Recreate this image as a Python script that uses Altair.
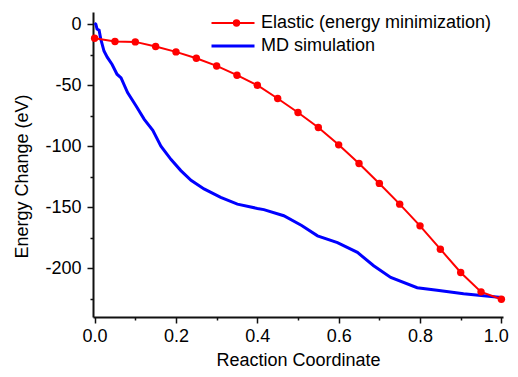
import altair as alt
import pandas as pd

# Elastic (energy minimization) series
elastic_x = [0.0, 0.05, 0.10, 0.15, 0.20, 0.25, 0.30, 0.35, 0.40, 0.45, 0.50,
             0.55, 0.60, 0.65, 0.70, 0.75, 0.80, 0.85, 0.90, 0.95, 1.00]
elastic_y = [-11.5, -14.2, -14.5, -18.3, -22.7, -27.9, -34.2, -41.8, -50.0, -60.9, -72.4,
             -84.7, -98.9, -114.2, -130.5, -147.5, -165.3, -184.4, -203.5, -219.4, -225.4]

# MD simulation series
md_x = [0.0, 0.003, 0.006, 0.011, 0.015, 0.023, 0.031, 0.043, 0.055, 0.065, 0.081,
        0.102, 0.122, 0.143, 0.163, 0.188, 0.212, 0.237, 0.269, 0.310, 0.351, 0.400,
        0.416, 0.465, 0.509, 0.548, 0.597, 0.646, 0.686, 0.728, 0.793, 0.842, 0.907, 1.0]
md_y = [1, 0, -4, -5, -12, -22, -27, -33, -41, -44, -56,
        -67, -78, -87, -100, -111, -120, -128, -135, -142, -147.5, -151,
        -152, -157, -165, -173.5, -179, -187, -198, -207.6, -216, -218, -221, -224]

series_names = ["Elastic (energy minimization)", "MD simulation"]
series_colors = ["#FF0000", "#0000FF"]

x_major = [0.0, 0.2, 0.4, 0.6, 0.8]
x_last = [1.0]
x_minor = [0.1, 0.3, 0.5, 0.7, 0.9]
y_major = [0, -50, -100, -150, -200]
y_minor = [-25, -75, -125, -175, -225]

df_el = pd.DataFrame({"x": elastic_x, "y": elastic_y, "series": series_names[0]})
df_md = pd.DataFrame({"x": md_x, "y": md_y, "series": series_names[1]})

FONT = "Liberation Sans"
xs = alt.Scale(domain=[-0.004, 1.004], nice=False, zero=False)
ys = alt.Scale(domain=[-240, 10], nice=False, zero=False)
color_scale = alt.Scale(domain=series_names, range=series_colors)
width_scale = alt.Scale(domain=series_names, range=[2, 3])

common = dict(grid=False, tickWidth=1.5, tickColor="#111", labelFontSize=18, labelFont=FONT,
              labelColor="black", titleFontSize=18, titleFont=FONT, titleColor="black",
              titleFontWeight="normal")

x_axis = alt.Axis(values=x_major, format=".1f", title="Reaction Coordinate",
                  tickSize=6, domainWidth=2, domainColor="#111",
                  labelPadding=4, titleY=48, titleBaseline="alphabetic", orient="bottom", **common)
y_axis = alt.Axis(values=y_major, title="Energy Change (eV)",
                  labelExpr="datum.value < 0 ? '-' + format(-datum.value, 'd') : format(datum.value, 'd')",
                  tickSize=6, domainWidth=2, domainColor="#111",
                  labelPadding=6, titleX=-71, titleY=164, titleAngle=270,
                  titleAlign="center", titleBaseline="middle", orient="left", **common)
x_axis_last = alt.Axis(values=x_last, format=".1f", title=None, tickSize=6, domain=False,
                       labelPadding=4, labelFlush=6, labelFlushOffset=7, orient="bottom", **common)

legend_lines = alt.Legend(orient="none", legendX=117, legendY=2, title=None,
                          symbolType="stroke", symbolSize=1849, symbolStrokeWidth=2.5,
                          clipHeight=18, rowPadding=5, labelFontSize=18,
                          labelFont=FONT, labelColor="black", labelOffset=5,
                          labelLimit=400, padding=0)

el_line = alt.Chart(df_el).mark_line(clip=False).encode(
    x=alt.X("x:Q", scale=xs, axis=x_axis),
    y=alt.Y("y:Q", scale=ys, axis=y_axis),
    color=alt.Color("series:N", scale=color_scale, legend=legend_lines),
    strokeWidth=alt.StrokeWidth("series:N", scale=width_scale, legend=None),
)

md_line = alt.Chart(df_md).mark_line(clip=False).encode(
    x=alt.X("x:Q", scale=xs, axis=x_axis_last),
    y=alt.Y("y:Q", scale=ys, axis=None),
    color=alt.Color("series:N", scale=color_scale, legend=legend_lines),
    strokeWidth=alt.StrokeWidth("series:N", scale=width_scale, legend=None),
)

points = alt.Chart(df_el).mark_point(filled=True, size=55, opacity=1, clip=False).encode(
    x=alt.X("x:Q", scale=xs, axis=alt.Axis(values=x_minor, labels=False, title=None, domain=False,
                                           grid=False, tickSize=3, tickWidth=1.5, tickColor="#111",
                                           orient="bottom")),
    y=alt.Y("y:Q", scale=ys, axis=alt.Axis(values=y_minor, labels=False, title=None, domain=False,
                                           grid=False, tickSize=3, tickWidth=1.5, tickColor="#111",
                                           orient="left")),
    fill=alt.Fill("series:N", scale=alt.Scale(domain=[series_names[0]], range=[series_colors[0]]),
                  legend=alt.Legend(orient="none", legendX=134.5, legendY=2, title=None,
                                    symbolType="circle", symbolSize=55, clipHeight=18,
                                    rowPadding=5, labelFontSize=18, labelFont=FONT,
                                    labelExpr="''", labelLimit=400, padding=0,
                                    symbolStrokeWidth=0)),
)

chart = alt.layer(md_line, el_line, points).resolve_axis(
    x="independent", y="independent"
).properties(
    width=410, height=305,
    autosize=alt.AutoSizeParams(type="none"),
    padding={"left": 85, "top": 4, "right": 7, "bottom": 52},
    background="white",
).configure_view(stroke=None)

chart.save("out.html", embed_options={"renderer": "svg", "actions": False})
